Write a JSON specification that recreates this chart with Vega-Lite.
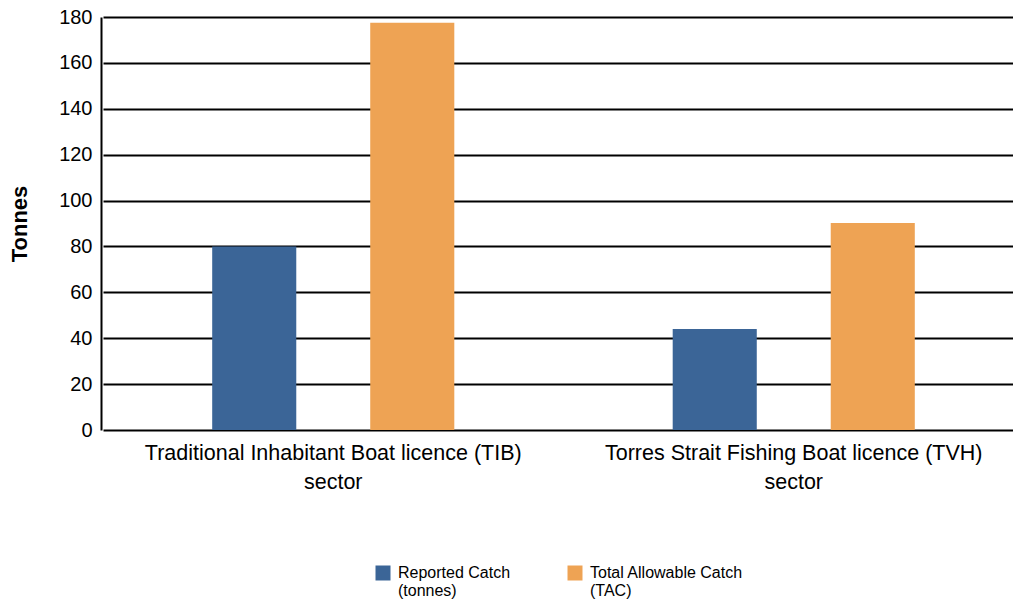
{
  "$schema": "https://vega.github.io/schema/vega-lite/v6.json",
  "autosize": "none",
  "width": 907,
  "height": 413,
  "padding": {"left": 101, "top": 17, "right": 5, "bottom": 170},
  "background": "white",
  "config": {
    "font": "Liberation Sans",
    "view": {"stroke": null}
  },
  "data": {
    "values": [
      {"sector": "Traditional Inhabitant Boat licence (TIB) sector", "series": "Reported Catch (tonnes)", "tonnes": 80},
      {"sector": "Traditional Inhabitant Boat licence (TIB) sector", "series": "Total Allowable Catch (TAC)", "tonnes": 177.5},
      {"sector": "Torres Strait Fishing Boat licence (TVH) sector", "series": "Reported Catch (tonnes)", "tonnes": 44},
      {"sector": "Torres Strait Fishing Boat licence (TVH) sector", "series": "Total Allowable Catch (TAC)", "tonnes": 90.2}
    ]
  },
  "mark": {"type": "bar"},
  "encoding": {
    "x": {
      "field": "sector",
      "type": "nominal",
      "sort": null,
      "scale": {"paddingInner": 0, "paddingOuter": 0, "range": [2, 923]},
      "axis": {
        "title": null,
        "labelAngle": 0,
        "domain": false,
        "ticks": false,
        "labelFontSize": 21.5,
        "labelColor": "black",
        "labelPadding": 12,
        "labelLineHeight": 29,
        "labelLimit": 500,
        "labelExpr": "[replace(datum.label, ' sector', ''), 'sector']"
      }
    },
    "xOffset": {
      "field": "series",
      "type": "nominal",
      "scale": {"paddingInner": 0.468, "paddingOuter": 0.691}
    },
    "y": {
      "field": "tonnes",
      "type": "quantitative",
      "scale": {"domain": [0, 180]},
      "axis": {
        "title": "Tonnes",
        "titleFontSize": 22,
        "titleFontWeight": "bold",
        "titleColor": "black",
        "titlePadding": 27,
        "values": [0, 20, 40, 60, 80, 100, 120, 140, 160, 180],
        "labelFontSize": 20,
        "labelColor": "black",
        "labelPadding": 9,
        "ticks": false,
        "domainColor": "black",
        "domainWidth": 2,
        "gridColor": "black",
        "gridWidth": 2,
        "gridOpacity": 1
      }
    },
    "color": {
      "field": "series",
      "type": "nominal",
      "scale": {"range": ["#3b6597", "#eea354"]},
      "legend": {
        "title": null,
        "orient": "none",
        "direction": "horizontal",
        "legendX": 274,
        "legendY": 548,
        "symbolType": "square",
        "symbolSize": 225,
        "symbolStrokeWidth": 0,
        "symbolOpacity": 1,
        "labelFontSize": 16,
        "labelColor": "black",
        "labelLineHeight": 20,
        "labelOffset": 7,
        "columnPadding": 56,
        "labelExpr": "datum.label == 'Reported Catch (tonnes)' ? ['Reported Catch', '(tonnes)'] : ['Total Allowable Catch', '(TAC)']"
      }
    }
  }
}
